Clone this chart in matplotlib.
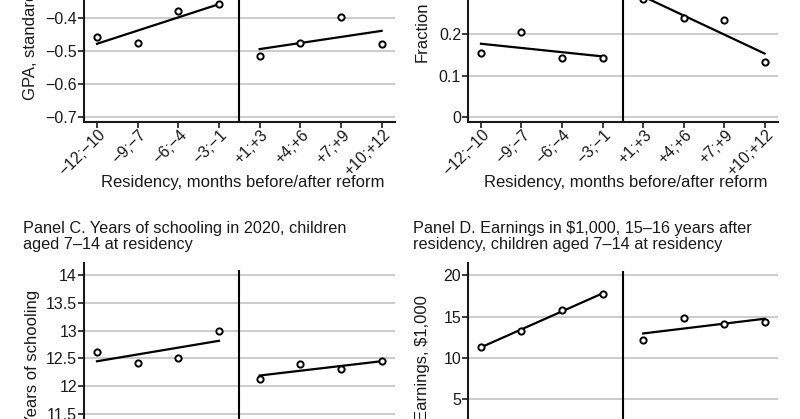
import matplotlib.pyplot as plt
import matplotlib.transforms as mtransforms
import numpy as np
from matplotlib.ticker import FuncFormatter

plt.rcParams['font.family'] = ['Liberation Sans', 'DejaVu Sans']
plt.rcParams['figure.dpi'] = 100

W, H = 800, 419

# data
cats = ["\u221212;\u221210", "\u22129;\u22127", "\u22126;\u22124", "\u22123;\u22121",
        "+1;+3", "+4;+6", "+7;+9", "+10;+12"]
gpa = [-0.458, -0.477, -0.380, -0.357, -0.515, -0.475, -0.396, -0.480]
frac = [0.156, 0.206, 0.143, 0.143, 0.285, 0.239, 0.234, 0.133]
school = [12.61, 12.42, 12.51, 12.99, 12.13, 12.40, 12.30, 12.45]
earn = [11.37, 13.27, 15.80, 17.78, 12.13, 14.84, 14.11, 14.35]

gpa_ticks = [-0.7, -0.6, -0.5, -0.4, -0.3]
frac_ticks = [0, 0.1, 0.2, 0.3]
school_ticks = [11, 11.5, 12, 12.5, 13, 13.5, 14]
earn_ticks = [0, 5, 10, 15, 20]

fig = plt.figure(figsize=(W / 100, H / 100))


def px_axes(left, right, top, bottom):
    return fig.add_axes([left / W, 1 - bottom / H, (right - left) / W, (bottom - top) / H])


def fmt(v, _):
    return f"{v:g}".replace("-", "\u2212")


# nudge for the rotated x tick labels (6 px right, 2 px down)
shift = mtransforms.ScaledTranslation(0.06, -0.02, fig.dpi_scale_trans)


def panel(ax, vals, ticks, ylim, vtop, xlabel=True):
    x = np.arange(8)
    ax.set_xlim(-0.32, 7.33)
    ax.set_ylim(*ylim)
    ax.set_yticks(ticks)
    ax.yaxis.set_major_formatter(FuncFormatter(fmt))
    ax.yaxis.grid(True, color='#c8c8c8', lw=1.3)
    ax.set_axisbelow(True)
    for s in ['top', 'right']:
        ax.spines[s].set_visible(False)
    for s in ['left', 'bottom']:
        ax.spines[s].set_linewidth(1.5)
        ax.spines[s].set_color('#1a1a1a')
    ax.tick_params(axis='y', length=4, width=1.2, pad=1, labelsize=11.5, colors='#1a1a1a')
    ax.tick_params(axis='x', length=4, width=1.2, pad=2, labelsize=11.5, colors='#1a1a1a')
    ax.set_xticks(x)
    ax.set_xticklabels(cats, rotation=45, ha='right', va='center', rotation_mode='anchor')
    for lab in ax.get_xticklabels():
        lab.set_transform(lab.get_transform() + shift)
    ax.vlines(3.5, ylim[0], vtop, color='black', lw=1.5)
    v = np.array(vals)
    for sl in [slice(0, 4), slice(4, 8)]:
        xs = x[sl]
        b, a = np.polyfit(xs, v[sl], 1)
        ax.plot([xs[0], xs[-1]], [a + b * xs[0], a + b * xs[-1]], color='black', lw=1.6, zorder=3)
    ax.plot(x, v, 'o', ms=4.5, mfc='white', mec='black', mew=1.4, zorder=4)
    if xlabel:
        ax.set_xlabel("Residency, months before/after reform", fontsize=12, color='#1a1a1a')
        ax.xaxis.set_label_coords(0.51, -0.355)


# Panel A
axA = px_axes(84, 395, -28, 122)
panel(axA, gpa, gpa_ticks, (-0.715, -0.2605), -0.27)
fig.text(31 / W, 1 - 100 / H, "GPA, standardized", rotation=90, ha='center', va='bottom',
         fontsize=12, color='#1a1a1a')

# Panel B
axB = px_axes(468, 778, -28, 122)
panel(axB, frac, frac_ticks, (-0.0121, 0.351), 0.34)
fig.text(422 / W, 1 - 62 / H, "Fraction", rotation=90, ha='center', va='bottom',
         fontsize=12, color='#1a1a1a')

# Panel C
axC = px_axes(84, 395, 263, 446)
panel(axC, school, school_ticks, (10.92, 14.22), 14.1, xlabel=False)
fig.text(33 / W, 1 - 290 / H, "Years of schooling", rotation=90, ha='center', va='top',
         fontsize=12, color='#1a1a1a')
fig.text(23 / W, 1 - 221 / H, "Panel C. Years of schooling in 2020, children\naged 7\u201314 at residency",
         ha='left', va='top', fontsize=11.7, linespacing=1.1, color='#1a1a1a')

# Panel D
axD = px_axes(468, 778, 263, 446)
panel(axD, earn, earn_ticks, (-0.64, 21.49), 20.55, xlabel=False)
fig.text(422 / W, 1 - 295 / H, "Earnings, $1,000", rotation=90, ha='center', va='top',
         fontsize=12, color='#1a1a1a')
fig.text(413 / W, 1 - 221 / H, "Panel D. Earnings in $1,000, 15\u201316 years after\nresidency, children aged 7\u201314 at residency",
         ha='left', va='top', fontsize=11.7, linespacing=1.1, color='#1a1a1a')

fig.savefig("out.png", dpi=100)
